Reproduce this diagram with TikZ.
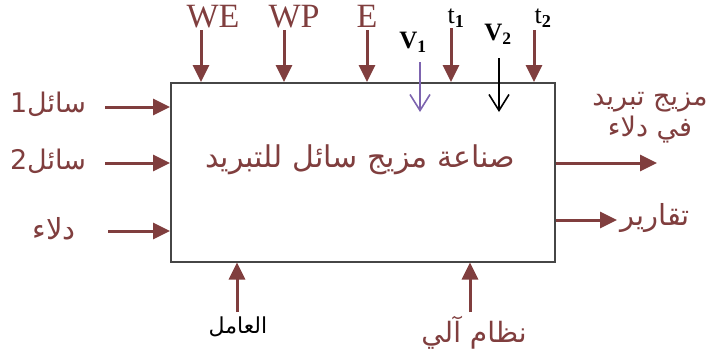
\documentclass[tikz,border=0pt]{standalone}
\usepackage{fontspec}
\setmainfont{Liberation Serif}
\newfontfamily\arabicfont[Script=Arabic]{DejaVu Sans}
\TeXXeTstate=1
\usetikzlibrary{arrows.meta}
\definecolor{maroon}{RGB}{128,62,62}
\definecolor{vpurple}{RGB}{125,100,175}
\definecolor{boxgray}{RGB}{70,70,70}
\begin{document}
\begin{tikzpicture}[x=1pt,y=-1pt,
  flow/.style={draw=maroon, line width=3pt, -{Triangle[length=17pt,width=16pt]}},
  vflow/.style={line width=1.6pt, -{Straight Barb[length=16pt,width=20pt,line width=1.6pt]}},
  lat/.style={text=maroon, font=\fontsize{34}{34}\selectfont, inner sep=0pt},
  small/.style={text=black, font=\fontsize{26}{26}\selectfont, inner sep=0pt},
  bsmall/.style={text=black, font=\bfseries\fontsize{25}{25}\selectfont, inner sep=0pt},
  ar/.style={text=maroon, font=\arabicfont\fontsize{27}{32}\selectfont, inner sep=0pt, align=center},
  procbox/.style={draw=boxgray, line width=1.5pt, minimum width=384pt, minimum height=179pt, inner sep=0pt, anchor=north west}
]
\useasboundingbox (0,0) rectangle (710,354);
\node[procbox] (box) at (170,82) {};
\node[ar, font=\arabicfont\fontsize{30}{34}\selectfont] (title) at (360,160) {\beginR صناعة مزيج سائل للتبريد\endR};

% top inputs
\node[lat] (we) at (213,17) {WE};
\node[lat] (wp) at (294,17) {WP};
\node[lat] (e) at (367,16) {E};
\node[bsmall] (v1) at (413,42) {V\textsubscript{1}};
\node[small] (t1) at (456,18) {t\textsubscript{\textbf{1}}};
\node[bsmall] (v2) at (498,34) {V\textsubscript{2}};
\node[small] (t2) at (543,18) {t\textsubscript{\textbf{2}}};
\coordinate (weS) at (201,30);
\coordinate (wpS) at (284,30);
\coordinate (eS) at (367,30);
\coordinate (t1S) at (451,28);
\coordinate (t2S) at (534,30);
\coordinate (v1S) at (420,62);
\coordinate (v1E) at (420,112);
\coordinate (v2S) at (499,58);
\coordinate (v2E) at (499,112);
\draw[flow] (weS) -- (weS |- box.north);
\draw[flow] (wpS) -- (wpS |- box.north);
\draw[flow] (eS) -- (eS |- box.north);
\draw[flow] (t1S) -- (t1S |- box.north);
\draw[flow] (t2S) -- (t2S |- box.north);
\draw[vflow, draw=vpurple] (v1S) -- (v1E);
\draw[vflow, draw=black] (v2S) -- (v2E);

% left inputs
\node[ar] (in1) at (48,104) {\beginR سائل1\endR};
\node[ar] (in2) at (48,161) {\beginR سائل2\endR};
\node[ar, font=\arabicfont\fontsize{29}{32}\selectfont] (in3) at (54,229) {\beginR دلاء\endR};
\coordinate (in1S) at (105,107);
\coordinate (in2S) at (105,163);
\coordinate (in3S) at (108,231);
\draw[flow] (in1S) -- (in1S -| box.west);
\draw[flow] (in2S) -- (in2S -| box.west);
\draw[flow] (in3S) -- (in3S -| box.west);

% right outputs
\node[ar, font=\arabicfont\fontsize{27}{31}\selectfont] (out1) at (650,118) {\beginR مزيج تبريد\endR\\\beginR في دلاء\endR};
\node[ar, font=\arabicfont\fontsize{29}{32}\selectfont] (out2) at (655,218) {\beginR تقارير\endR};
\coordinate (out1E) at (657,163);
\coordinate (out2E) at (617,220);
\draw[flow] (out1E -| box.east) -- (out1E);
\draw[flow] (out2E -| box.east) -- (out2E);

% bottom mechanisms
\node[ar, text=black, font=\arabicfont\fontsize{22}{24}\selectfont] (m1) at (238,327) {\beginR العامل\endR};
\node[ar, font=\arabicfont\fontsize{28}{30}\selectfont] (m2) at (474,333) {\beginR نظام آلي\endR};
\coordinate (m1S) at (237,312);
\coordinate (m2S) at (470,312);
\draw[flow] (m1S) -- (m1S |- box.south);
\draw[flow] (m2S) -- (m2S |- box.south);
\end{tikzpicture}
\end{document}
